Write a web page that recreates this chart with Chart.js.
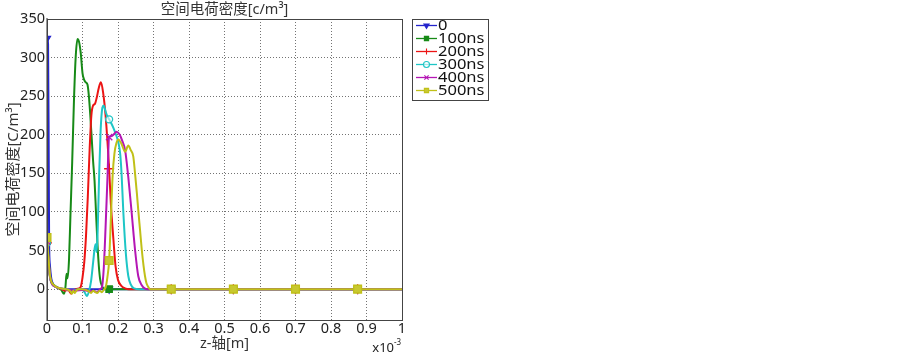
<!DOCTYPE html>
<html><head><meta charset="utf-8">
<script src="https://cdn.jsdelivr.net/npm/chart.js@4.4.0/dist/chart.umd.min.js"></script>
<style>html,body{margin:0;padding:0;background:#fff}#wrap{width:903px;height:353px}</style>
</head><body><div id="wrap"><canvas id="c" width="903" height="353"></canvas></div>
<script>
// ---- data ----
const seriesLabels = ['0', '100ns', '200ns', '300ns', '400ns', '500ns'];
const xTicks = [0, 0.1, 0.2, 0.3, 0.4, 0.5, 0.6, 0.7, 0.8, 0.9, 1];
const xTickLabels = ['0', '0.1', '0.2', '0.3', '0.4', '0.5', '0.6', '0.7', '0.8', '0.9', '1'];
const yTicks = [0, 50, 100, 150, 200, 250, 300, 350];
const markerZ = [0, 0.175, 0.35, 0.525, 0.7, 0.875];

const z0 = [0, 0.003, 0.005, 0.006, 0.008, 0.012, 0.018, 0.025, 0.035, 0.05, 0.1, 0.175, 0.35, 0.525, 0.7, 0.875, 1];
const rho0 = [325, 318, 160, 60, 32, 14, 6, 3, 1, 0, 0, 0, 0, 0, 0, 0, 0];

const z1 = [0, 0.004, 0.008, 0.012, 0.02, 0.03, 0.04, 0.048, 0.052, 0.055, 0.058, 0.062, 0.066, 0.071, 0.076, 0.081, 0.086, 0.09, 0.095, 0.1, 0.104, 0.109, 0.114, 0.118, 0.122, 0.126, 0.13, 0.134, 0.138, 0.142, 0.146, 0.15, 0.155, 0.16, 0.175, 0.35, 0.525, 0.7, 0.875, 1];
const rho1 = [62, 40, 18, 10, 5, 2, -1, -6, 3, 20, 14, 38, 95, 165, 245, 302, 324, 321, 306, 280, 272, 268, 265, 250, 225, 195, 165, 140, 100, 60, 30, 12, 4, 1, 0, 0, 0, 0, 0, 0];

const z2 = [0, 0.004, 0.008, 0.012, 0.02, 0.03, 0.04, 0.05, 0.06, 0.068, 0.075, 0.082, 0.09, 0.095, 0.1, 0.105, 0.11, 0.115, 0.12, 0.125, 0.13, 0.135, 0.14, 0.146, 0.152, 0.158, 0.165, 0.175, 0.18, 0.187, 0.193, 0.2, 0.21, 0.22, 0.23, 0.35, 0.525, 0.7, 0.875, 1];
const rho2 = [60, 38, 17, 9, 4, 2, 0, -2, -1, -6, -2, 0, 1, 3, 15, 35, 70, 120, 180, 225, 238, 240, 248, 261, 268, 255, 225, 156, 110, 65, 30, 12, 4, 1, 0, 0, 0, 0, 0, 0];

const z3 = [0, 0.004, 0.008, 0.012, 0.02, 0.03, 0.04, 0.05, 0.06, 0.07, 0.08, 0.09, 0.1, 0.106, 0.112, 0.118, 0.124, 0.13, 0.134, 0.137, 0.14, 0.143, 0.147, 0.151, 0.156, 0.16, 0.164, 0.168, 0.175, 0.181, 0.187, 0.196, 0.201, 0.206, 0.21, 0.215, 0.222, 0.229, 0.236, 0.245, 0.26, 0.35, 0.525, 0.7, 0.875, 1];
const rho3 = [60, 38, 17, 9, 4, 2, 1, 0, -1, -2, -1, 0, -1, -4, -9, -3, 10, 35, 52, 58, 48, 80, 150, 205, 235, 238, 232, 226, 220, 215, 209, 198, 190, 176, 150, 100, 47, 17, 6, 1, 0, 0, 0, 0, 0, 0];

const z4 = [0, 0.004, 0.008, 0.012, 0.02, 0.03, 0.04, 0.06, 0.08, 0.1, 0.12, 0.13, 0.14, 0.15, 0.155, 0.16, 0.165, 0.17, 0.175, 0.18, 0.187, 0.196, 0.205, 0.212, 0.22, 0.229, 0.2385, 0.248, 0.257, 0.267, 0.275, 0.285, 0.35, 0.525, 0.7, 0.875, 1];
const rho4 = [62, 40, 18, 9, 4, 2, 1, -1, -2, -1, -3, -2, -4, 0, 3, 28, 80, 140, 197, 198, 200, 204, 200, 192, 180, 145, 99, 51, 17, 5, 1, 0, 0, 0, 0, 0, 0];

const z5 = [0, 0.004, 0.008, 0.012, 0.02, 0.03, 0.04, 0.05, 0.06, 0.066, 0.07, 0.074, 0.078, 0.084, 0.09, 0.1, 0.11, 0.118, 0.124, 0.13, 0.136, 0.142, 0.148, 0.154, 0.16, 0.165, 0.17, 0.175, 0.18, 0.185, 0.19, 0.196, 0.201, 0.21, 0.22, 0.229, 0.236, 0.243, 0.248, 0.253, 0.257, 0.262, 0.267, 0.272, 0.276, 0.28, 0.285, 0.29, 0.35, 0.525, 0.7, 0.875, 1];
const rho5 = [67, 42, 19, 10, 5, 2, 1, 0, -1, -3, -6, -2, -5, -1, 0, 0, -1, -3, -5, -2, -4, -5, -2, -4, -1, 2, 15, 37, 92, 148, 176, 190, 194, 188, 178, 186, 180, 172, 150, 125, 103, 77, 51, 30, 17, 8, 3, 0, 0, 0, 0, 0, 0];

// ---- styles ----
const zs = [z0, z1, z2, z3, z4, z5];
const rhos = [rho0, rho1, rho2, rho3, rho4, rho5];
const colors = ['#2424cc', '#178a17', '#ec1414', '#1ec6c6', '#b416b4', '#c0c018'];
const fills = ['#2424cc', '#178a17', '#ec1414', 'rgba(255,255,255,0.6)', '#b416b4', '#c8c830'];
const pStyles = ['triangle', 'rect', 'cross', 'circle', 'crossRot', 'rect'];
const pRot = [180, 0, 0, 0, 0, 0];
const pRad = [4, 4.5, 5, 3.5, 4.5, 5.5];
const FF = "'Noto Sans','Noto Sans CJK SC',sans-serif";

Chart.defaults.font.family = FF;
Chart.defaults.color = '#222';

const datasets = zs.map((z, i) => ({
  label: seriesLabels[i],
  data: z.map((x, k) => ({x: x, y: rhos[i][k]})),
  borderColor: colors[i],
  backgroundColor: fills[i],
  borderWidth: 2,
  pointStyle: pStyles[i],
  pointRotation: pRot[i],
  pointBorderColor: colors[i],
  pointBackgroundColor: fills[i],
  pointBorderWidth: 1.3,
  pointRadius: (ctx) => (ctx.raw && markerZ.includes(ctx.raw.x)) ? pRad[i] : 0,
  pointHoverRadius: 0,
  cubicInterpolationMode: 'monotone',
  fill: false,
  order: 5 - i
}));

const framePlugin = {
  id: 'frame',
  afterDraw(chart) {
    const {ctx, chartArea: a} = chart;
    ctx.save();
    ctx.strokeStyle = '#444';
    ctx.lineWidth = 1;
    ctx.strokeRect(Math.round(a.left) + 0.5, Math.round(a.top) + 0.5, Math.round(a.right - a.left), Math.round(a.bottom - a.top));
    // x10^-3 multiplier
    ctx.fillStyle = '#222';
    ctx.textBaseline = 'alphabetic';
    ctx.textAlign = 'right';
    ctx.font = '13px ' + FF;
    ctx.fillText('x10', 394, 352);
    ctx.font = '8px ' + FF;
    ctx.textAlign = 'left';
    ctx.fillText('-3', 394, 345);
    // legend
    const L = 412.5, T = 19.5, W = 76, H = 81;
    ctx.fillStyle = '#fff';
    ctx.fillRect(L, T, W, H);
    ctx.strokeStyle = '#444';
    ctx.strokeRect(L, T, W, H);
    const rows = [25.5, 38.5, 51.5, 64.5, 77.5, 90.5];
    chart.data.datasets.forEach((ds, i) => {
      const y = rows[i];
      ctx.strokeStyle = ds.borderColor;
      ctx.lineWidth = 1.3;
      ctx.beginPath();
      ctx.moveTo(416, y);
      ctx.lineTo(437, y);
      ctx.stroke();
      ctx.fillStyle = ds.pointBackgroundColor;
      ctx.strokeStyle = ds.pointBorderColor;
      ctx.lineWidth = 1.1;
      if (Chart.helpers && Chart.helpers.drawPoint) {
        Chart.helpers.drawPoint(ctx, {pointStyle: ds.pointStyle, rotation: ds.pointRotation, radius: 3, borderWidth: 1.1}, 426.5, y);
      }
      ctx.save();
      ctx.translate(438, y);
      ctx.scale(1.18, 1);
      ctx.fillStyle = '#111';
      ctx.font = '14px ' + FF;
      ctx.textAlign = 'left';
      ctx.textBaseline = 'middle';
      ctx.fillText(ds.label, 0, 1);
      ctx.restore();
    });
    ctx.restore();
  }
};

new Chart(document.getElementById('c'), {
  type: 'line',
  data: {datasets: datasets},
  options: {
    responsive: false,
    animation: false,
    events: [],
    layout: {padding: {left: 0, right: 501, top: 0, bottom: 0}},
    plugins: {
      legend: {display: false},
      tooltip: {enabled: false},
      title: {
        display: true,
        text: '空间电荷密度[c/m³]',
        fullSize: false,
        color: '#333',
        font: {size: 14.5, weight: 'normal', lineHeight: '18px'},
        padding: {top: 1, bottom: 0}
      }
    },
    scales: {
      x: {
        type: 'linear',
        min: 0, max: 1,
        afterBuildTicks: (s) => { s.ticks = xTicks.map(v => ({value: v})); },
        afterFit: (s) => { s.height = 33; },
        ticks: {
          font: {size: 14.5},
          padding: 0,
          maxRotation: 0,
          autoSkip: false,
          callback: (v, idx) => xTickLabels[idx]
        },
        grid: {color: 'rgba(80,80,80,0.8)', lineWidth: 1, drawTicks: false},
        border: {display: true, color: '#444', width: 1, dash: [1, 2]},
        title: {display: true, text: 'z-轴[m]', color: '#333', font: {size: 14.5, lineHeight: '18px'}, padding: {top: 0, bottom: 0}}
      },
      y: {
        type: 'linear',
        min: -40, max: 350,
        afterBuildTicks: (s) => { s.ticks = yTicks.map(v => ({value: v})); },
        afterFit: (s) => { s.width = 47; },
        ticks: {font: {size: 14.5}, padding: 2, callback: (v) => String(v)},
        grid: {color: 'rgba(80,80,80,0.8)', lineWidth: 1, drawTicks: false},
        border: {display: true, color: '#999', width: 2, dash: [1, 2]},
        title: {display: true, text: '空间电荷密度[C/m³]', color: '#333', font: {size: 15, lineHeight: '18px'}, padding: {top: 5, bottom: 0}}
      }
    }
  },
  plugins: [framePlugin]
});
</script>
</body></html>
